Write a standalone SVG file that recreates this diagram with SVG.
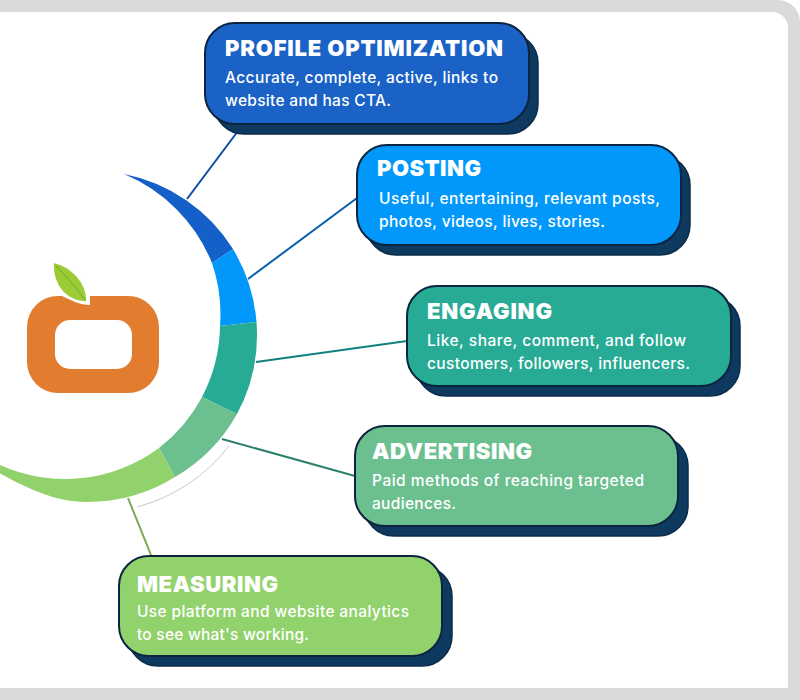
<svg xmlns="http://www.w3.org/2000/svg" width="800" height="700" viewBox="0 0 800 700">
<style>
.shadow{fill:#0f3a5f;stroke:#0c2b4a;stroke-width:1.5}
.card{stroke:#0b2440;stroke-width:2}
.t{font-family:"Inter","Liberation Sans",sans-serif;font-weight:900;font-size:22px;fill:#fff}
.b{font-family:"Inter","Liberation Sans",sans-serif;font-weight:500;font-size:15.500px;fill:#fff}
.c{fill:none;stroke-width:2}
</style>
<rect width="800" height="700" fill="#fff"/>
<path d="M0 0H778A22 22 0 0 1 800 22V700H0Z" fill="#dadada"/>
<path d="M0 12H772A16 16 0 0 1 788 28V688H0Z" fill="#fff"/>
<g id="connectors">
<line class="c" x1="187" y1="199" x2="238" y2="131" stroke="#0f4ba5"/>
<line class="c" x1="248" y1="279" x2="357" y2="198" stroke="#0b5cad"/>
<line class="c" x1="256" y1="362" x2="407" y2="341" stroke="#11807f"/>
<line class="c" x1="222" y1="439" x2="355" y2="476" stroke="#2f7f6f"/>
<line class="c" x1="128" y1="498" x2="151" y2="555" stroke="#7fa84f"/>
</g>
<g id="ring">
<path d="M124 174A167 167 0 0 1 233 249L212 263A162 162 0 0 0 124 174Z" fill="#1560c8"/>
<path d="M233 249A167 167 0 0 1 256.500 322L220 326A158 158 0 0 0 212 263Z" fill="#0298fb"/>
<path d="M256.500 322A167 167 0 0 1 237 414L202 397A158 158 0 0 0 220 326Z" fill="#27ab94"/>
<path d="M237 414A167 167 0 0 1 175 477L159 448A158 158 0 0 0 202 397Z" fill="#6cc08f"/>
<path d="M175 477A167 167 0 0 1 85 502C55 502 25 488 -10 468L0 465A158 158 0 0 0 159 448Z" fill="#91d26d"/>
<path d="M229 446A172 172 0 0 1 137 507" fill="none" stroke="#bbb" stroke-width="0.8"/>
</g>
<g id="logo">
<path d="M58 296H62C70 300 80 305 90 305V296H128A31 31 0 0 1 159 327V362A31 31 0 0 1 128 393H58A31 31 0 0 1 27 362V327A31 31 0 0 1 58 296Z" fill="#e27c2e"/>
<rect x="55" y="320" width="77" height="49" rx="15" fill="#fff"/>
<path d="M53 262C70 266 87 280 87 302C70 302 52 290 53 262Z" fill="#9ccb36" stroke="#fff" stroke-width="1.500"/>
<path d="M56 266C68 278 78 290 85 300" fill="none" stroke="#5eb02e" stroke-width="1"/>
</g>
<g id="node-profile">
<rect class="shadow" x="214" y="33" width="324" height="101" rx="30"/>
<rect class="card" x="205" y="23" width="324" height="101" rx="30" fill="#1a62c6"/>
<text class="t" x="225" y="56" textLength="278">PROFILE OPTIMIZATION</text>
<text class="b" x="225" y="83" textLength="273">Accurate, complete, active, links to</text>
<text class="b" x="225" y="106" textLength="166">website and has CTA.</text>
</g>
<g id="node-posting">
<rect class="shadow" x="366" y="155" width="324" height="100" rx="30"/>
<rect class="card" x="357" y="145" width="324" height="100" rx="30" fill="#0298fb"/>
<text class="t" x="377" y="176" textLength="104">POSTING</text>
<text class="b" x="379" y="204" textLength="281">Useful, entertaining, relevant posts,</text>
<text class="b" x="379" y="227" textLength="226">photos, videos, lives, stories.</text>
</g>
<g id="node-engaging">
<rect class="shadow" x="416" y="296" width="324" height="100" rx="30"/>
<rect class="card" x="407" y="286" width="324" height="100" rx="30" fill="#27ab94"/>
<text class="t" x="427" y="319" textLength="125">ENGAGING</text>
<text class="b" x="427" y="346" textLength="259">Like, share, comment, and follow</text>
<text class="b" x="427" y="369" textLength="263">customers, followers, influencers.</text>
</g>
<g id="node-advertising">
<rect class="shadow" x="364" y="436" width="324" height="100" rx="30"/>
<rect class="card" x="355" y="426" width="323" height="100" rx="30" fill="#6cc08f"/>
<text class="t" x="372" y="459" textLength="160">ADVERTISING</text>
<text class="b" x="372" y="486" textLength="272">Paid methods of reaching targeted</text>
<text class="b" x="372" y="509" textLength="84">audiences.</text>
</g>
<g id="node-measuring">
<rect class="shadow" x="128" y="566" width="324" height="100" rx="30"/>
<rect class="card" x="119" y="556" width="323" height="100" rx="30" fill="#91d26d"/>
<text class="t" x="137" y="592" textLength="141">MEASURING</text>
<text class="b" x="137" y="617" textLength="272">Use platform and website analytics</text>
<text class="b" x="137" y="640" textLength="172">to see what's working.</text>
</g>
</svg>
